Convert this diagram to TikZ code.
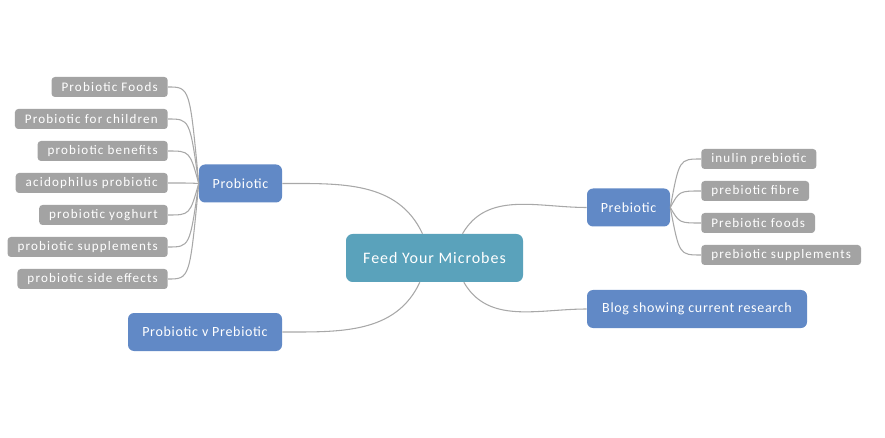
\documentclass[tikz,border=0pt]{standalone}
\usepackage{fontspec}
\setmainfont{Carlito}
\definecolor{mapblue}{HTML}{6189C6}
\definecolor{mapteal}{HTML}{5AA2BB}
\definecolor{mapgray}{HTML}{A3A3A3}
\definecolor{mapline}{HTML}{A8A8A8}
\tikzset{
  topic/.style={fill=mapblue, text=white, rounded corners=4.5pt, minimum height=28.5pt,
    inner xsep=0pt, font=\fontsize{10.5}{12}\selectfont\addfontfeatures{LetterSpace=5}},
  leaf/.style={fill=mapgray, text=white, rounded corners=2.5pt, minimum height=15pt,
    inner ysep=0pt, inner xsep=7.5pt, font=\fontsize{9.8}{11}\selectfont\addfontfeatures{LetterSpace=9}},
  link/.style={draw=mapline, line width=0.8pt},
}
\begin{document}
\begin{tikzpicture}[x=0.75pt,y=-0.75pt]
\useasboundingbox (0,0) rectangle (885,438);

\node[fill=mapteal, text=white, rounded corners=5pt, minimum width=132.75pt,
  minimum height=36pt, font=\fontsize{12}{14}\selectfont\addfontfeatures{LetterSpace=6}] (c) at (434.5,258) {Feed Your Microbes};

\node[topic, minimum width=62.25pt] (pro) at (240.5,183.5) {Probiotic};
\node[topic, minimum width=62.25pt] (pre) at (628.5,207.5) {Prebiotic};
\node[topic, minimum width=165pt] (blog) at (697,309) {Blog showing current research};
\node[topic, minimum width=115.5pt] (pvp) at (205,332) {Probiotic v Prebiotic};

% left leaves
\node[leaf, anchor=east] (l1) at (168,87) {Probiotic Foods};
\node[leaf, anchor=east] (l2) at (168,119) {Probiotic for children};
\node[leaf, anchor=east] (l3) at (168,151) {probiotic benefits};
\node[leaf, anchor=east] (l4) at (168,183) {acidophilus probiotic};
\node[leaf, anchor=east] (l5) at (168,215) {probiotic yoghurt};
\node[leaf, anchor=east] (l6) at (168,247) {probiotic supplements};
\node[leaf, anchor=east] (l7) at (168,279) {probiotic side effects};

% right leaves
\node[leaf, anchor=west] (r1) at (701,159) {inulin prebiotic};
\node[leaf, anchor=west] (r2) at (701,191) {prebiotic fibre};
\node[leaf, anchor=west] (r3) at (701,223) {Prebiotic foods};
\node[leaf, anchor=west] (r4) at (701,255) {prebiotic supplements};

\draw[link] (pro.east) to[out=0, in=115] ([xshift=-9pt]c.north);
\draw[link] ([xshift=21pt]c.north) to[out=60, in=180] (pre.west);
\draw[link] ([xshift=22pt]c.south) to[out=-60, in=180] (blog.west);
\draw[link] ([xshift=-11pt]c.south) to[out=-115, in=0] (pvp.east);

\foreach \n in {l1,l2,l3,l4,l5,l6,l7}
  \draw[link] (\n.east) .. controls ([xshift=-6.75pt]pro.west |- \n.east) .. (pro.west);
\foreach \n in {r1,r2,r3,r4}
  \draw[link] (pre.east) .. controls ([xshift=6.75pt]pre.east |- \n.west) .. (\n.west);
\end{tikzpicture}
\end{document}
